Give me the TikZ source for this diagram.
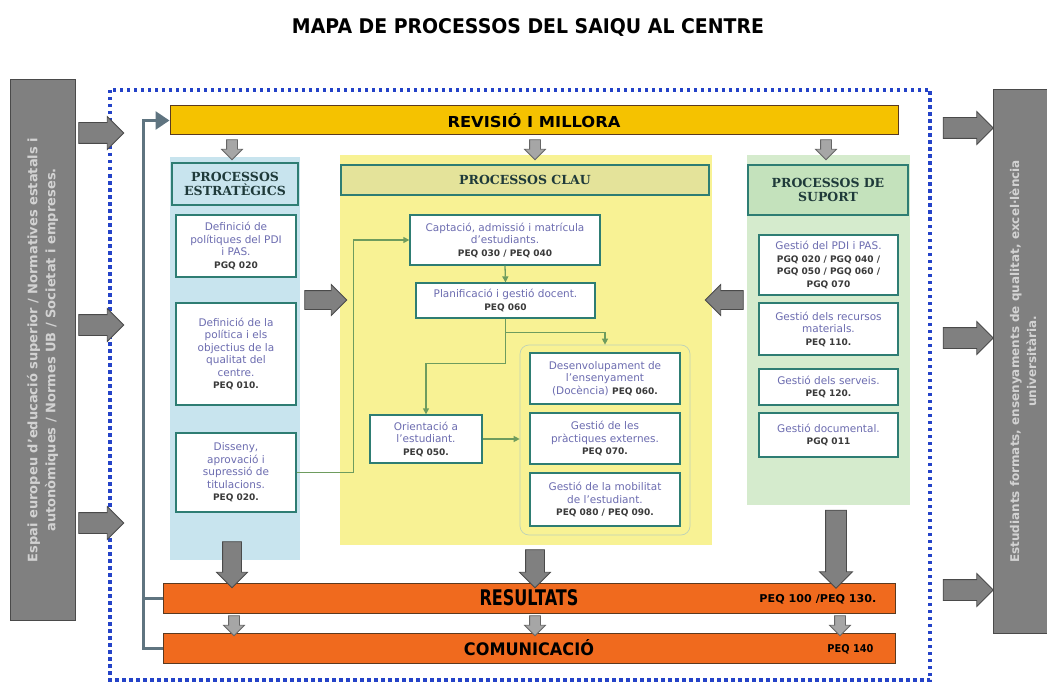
\documentclass[tikz,border=0pt]{standalone}
\usepackage{fontspec}
\setmainfont{DejaVu Sans}
\newfontfamily\capfont{DejaVu Serif}
\usetikzlibrary{shapes.arrows,arrows.meta}

\definecolor{revgold}{HTML}{F5C200}
\definecolor{barorange}{HTML}{F06A1E}
\definecolor{barline}{HTML}{5A3A20}
\definecolor{estratblue}{HTML}{C8E4EE}
\definecolor{claugel}{HTML}{F8F294}
\definecolor{clauhead}{HTML}{E4E39A}
\definecolor{suportgreen}{HTML}{D5EBCD}
\definecolor{suporthead}{HTML}{C4E2BC}
\definecolor{boxline}{HTML}{2E7D73}
\definecolor{boxtext}{HTML}{6C6CB0}
\definecolor{codetext}{HTML}{3A3A3A}
\definecolor{greyfill}{HTML}{808080}
\definecolor{greyline}{HTML}{4A4A4A}
\definecolor{envtext}{HTML}{D2D2D2}
\definecolor{dotblue}{HTML}{2443C8}
\definecolor{flowline}{HTML}{6E9C5E}
\definecolor{fbline}{HTML}{5F7480}
\definecolor{headtext}{HTML}{1F3A3A}

\newcommand{\codi}[1]{{\fontsize{9}{12}\selectfont\bfseries\color{codetext}#1}}

\tikzset{
  colbg/.style={draw=none,inner sep=0pt},
  headbox/.style={draw=boxline,line width=1.3pt,inner sep=0pt,align=center,text=headtext,
    font=\capfont\bfseries\fontsize{12.5}{14.5}\selectfont},
  procbox/.style={draw=boxline,fill=white,line width=1.3pt,inner sep=0pt,align=center,text=boxtext,
    font=\fontsize{10.5}{12.5}\selectfont},
  bar/.style={draw=barline,line width=1pt,inner sep=0pt,minimum width=732pt,minimum height=30pt},
  greybox/.style={fill=greyfill,draw=greyline,line width=1pt,inner sep=0pt,align=center,text=envtext,
    font=\bfseries\fontsize{13}{18}\selectfont},
  bigarrow/.style={single arrow,draw=greyline,fill=greyfill,line width=0.8pt,inner xsep=0pt,
    inner ysep=9pt,single arrow head extend=6pt},
  smallarrow/.style={bigarrow,fill=greyfill!70,draw=greyfill!80!black,inner ysep=5pt,single arrow head extend=5pt},
  flow/.style={draw=flowline,line width=1.3pt,-{Triangle[length=6pt,width=6pt]}},
  feedback/.style={draw=fbline,line width=3pt},
  dotborder/.style={draw=dotblue,line width=3.5pt,dash pattern=on 3.5pt off 3.5pt}
}

\begin{document}
\begin{tikzpicture}[x=1pt,y=-1pt]
\useasboundingbox (0,0) rectangle (1047,690);
\fill[white] (0,0) rectangle (1047,690);

% title
\node (titol) at (528,27) {\resizebox{472pt}{15pt}{\bfseries MAPA DE PROCESSOS DEL SAIQU AL CENTRE}};

% entorn
\node[greybox,rotate=90,minimum width=540pt,minimum height=65pt] (entrada) at (42.5,350)
  {Espai europeu d'educació superior / Normatives estatals i\\autonòmiques / Normes UB / Societat i empreses.};
\node[greybox,rotate=90,minimum width=543pt,minimum height=60pt,font=\bfseries\fontsize{12}{17}\selectfont] (sortida) at (1023,361.5)
  {Estudiants formats, ensenyaments de qualitat, excel·lència\\universitària.};

\draw[dotborder] (110,90) rectangle (930,680);

% columns
\node[colbg,fill=estratblue,minimum width=130pt,minimum height=403pt] (estrat) at (235,358.5) {};
\node[colbg,fill=claugel,minimum width=372pt,minimum height=390pt] (clau) at (526,350) {};
\node[colbg,fill=suportgreen,minimum width=163pt,minimum height=350pt] (suport) at (828.5,330) {};

% bars
\node[bar,fill=revgold,minimum width=728pt,minimum height=29pt] (revisio) at (534,120.5)
  {\resizebox{173pt}{14pt}{\bfseries REVISIÓ I MILLORA}};
\node[bar,fill=barorange] (result) at (529,598) {\resizebox{99pt}{16pt}{\bfseries RESULTATS}};
\node[bar,fill=barorange] (comunic) at (529,648) {\resizebox{130pt}{16pt}{\bfseries COMUNICACIÓ}};
\node[anchor=east] (resultcodi) at (880,599) {\resizebox{117pt}{8pt}{\bfseries PEQ 100 /PEQ 130.}};
\node[anchor=east] (comuniccodi) at (877,649) {\resizebox{46pt}{8pt}{\bfseries PEQ 140}};

% estrategics
\node[headbox,fill=estratblue,minimum width=126pt,minimum height=42pt] (estrathead) at (235,184)
  {PROCESSOS\\ESTRATÈGICS};
\node[procbox,minimum width=120pt,minimum height=62pt] (e1) at (236,246)
  {Definició de\\polítiques del PDI\\i PAS.\\\codi{PGQ 020}};
\node[procbox,minimum width=120pt,minimum height=102pt] (e2) at (236,354)
  {Definició de la\\política i els\\objectius de la\\qualitat del\\centre.\\\codi{PEQ 010.}};
\node[procbox,minimum width=120pt,minimum height=79pt] (e3) at (236,472.5)
  {Disseny,\\aprovació i\\supressió de\\titulacions.\\\codi{PEQ 020.}};

% clau
\node[headbox,fill=clauhead,minimum width=368pt,minimum height=30pt] (clauhead) at (525,180)
  {PROCESSOS CLAU};
\node[draw=flowline!45,rounded corners=9pt,line width=0.7pt,minimum width=170pt,minimum height=190pt] (grup) at (605,440) {};
\node[procbox,minimum width=190pt,minimum height=50pt] (captacio) at (505,240)
  {Captació, admissió i matrícula\\d'estudiants.\\\codi{PEQ 030 / PEQ 040}};
\node[procbox,minimum width=179pt,minimum height=35pt] (planif) at (505.5,300.5)
  {Planificació i gestió docent.\\\codi{PEQ 060}};
\node[procbox,minimum width=112pt,minimum height=48pt] (orient) at (426,439)
  {Orientació a\\l'estudiant.\\\codi{PEQ 050.}};
\node[procbox,minimum width=150pt,minimum height=51pt] (docencia) at (605,378.5)
  {Desenvolupament de\\l'ensenyament\\(Docència) \codi{PEQ 060.}};
\node[procbox,minimum width=150pt,minimum height=51pt] (practiques) at (605,438.5)
  {Gestió de les\\pràctiques externes.\\\codi{PEQ 070.}};
\node[procbox,minimum width=150pt,minimum height=53pt] (mobilitat) at (605,499.5)
  {Gestió de la mobilitat\\de l'estudiant.\\\codi{PEQ 080 / PEQ 090.}};

\draw[flow] (captacio.south) -- (planif.north);
\draw[flow] (planif.south) -- ++(0,14) -| (grup.north);
\draw[flow] (planif.south) -- ++(0,45) -| (orient.north);
\draw[flow] (orient.east) -- (orient.east -| grup.west);
\draw[flow] (e3.east) -- ++(57,0) |- (captacio.west);

% suport
\node[headbox,fill=suporthead,minimum width=160pt,minimum height=50pt] (suporthead) at (828,190)
  {PROCESSOS DE\\SUPORT};
\node[procbox,minimum width=139pt,minimum height=60pt] (s1) at (828.5,265)
  {Gestió del PDI i PAS.\\\codi{PGQ 020 / PGQ 040 /}\\\codi{PGQ 050 / PGQ 060 /}\\\codi{PGQ 070}};
\node[procbox,minimum width=139pt,minimum height=52pt] (s2) at (828.5,329)
  {Gestió dels recursos\\materials.\\\codi{PEQ 110.}};
\node[procbox,minimum width=139pt,minimum height=36pt] (s3) at (828.5,387)
  {Gestió dels serveis.\\\codi{PEQ 120.}};
\node[procbox,minimum width=139pt,minimum height=44pt] (s4) at (828.5,435)
  {Gestió documental.\\\codi{PGQ 011}};

% block arrows
\node[bigarrow,minimum height=45pt,inner ysep=10pt] (in1) at (96,133) {};
\node[bigarrow,minimum height=45pt,inner ysep=10pt] (in2) at (96,325) {};
\node[bigarrow,minimum height=45pt,inner ysep=10pt] (in3) at (96,523) {};
\node[bigarrow,minimum height=50pt,inner ysep=10pt] (out1) at (963,128) {};
\node[bigarrow,minimum height=50pt,inner ysep=10pt] (out2) at (963,338) {};
\node[bigarrow,minimum height=50pt,inner ysep=10pt] (out3) at (963,590) {};
\node[bigarrow,minimum height=42pt] (estratclau) at (321,300) {};
\node[bigarrow,minimum height=38pt,rotate=180] (suportclau) at (729,300) {};
\node[smallarrow,minimum height=20pt,rotate=-90] (rev1) at (232,147) {};
\node[smallarrow,minimum height=20pt,rotate=-90] (rev2) at (535,147) {};
\node[smallarrow,minimum height=20pt,rotate=-90] (rev3) at (826,147) {};
\node[bigarrow,minimum height=46pt,rotate=-90] (res1) at (232,560) {};
\node[bigarrow,minimum height=38pt,rotate=-90] (res2) at (535,564) {};
\node[bigarrow,minimum height=78pt,rotate=-90,inner ysep=10pt] (res3) at (836,544) {};
\node[smallarrow,minimum height=20pt,rotate=-90] (com1) at (234,623) {};
\node[smallarrow,minimum height=20pt,rotate=-90] (com2) at (535,623) {};
\node[smallarrow,minimum height=20pt,rotate=-90] (com3) at (840,623) {};

% feedback
\coordinate (fb) at (143,0);
\draw[feedback] (comunic.west) -- (comunic.west -| fb) |- ([xshift=-10pt]revisio.west);
\draw[feedback] (result.west) -- (result.west -| fb);
\draw[fbline,-{Triangle[length=14pt,width=18pt]},line width=3pt] ([xshift=-12pt]revisio.west) -- (revisio.west);
\end{tikzpicture}
\end{document}
